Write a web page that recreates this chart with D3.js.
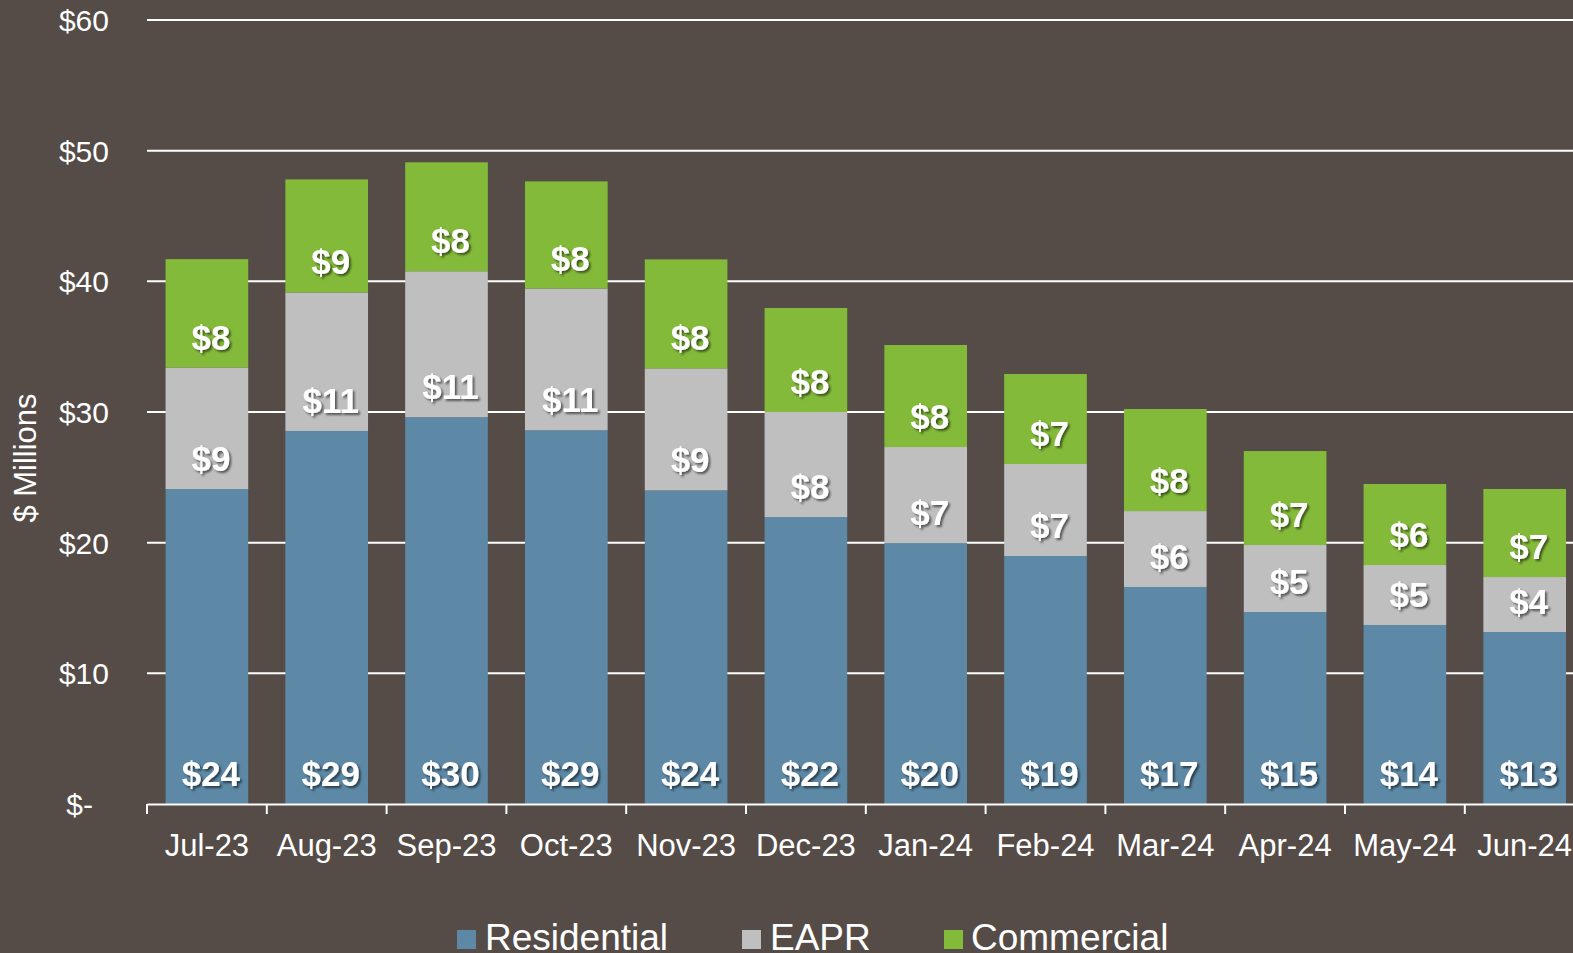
<!DOCTYPE html>
<html><head><meta charset="utf-8">
<script src="https://cdn.jsdelivr.net/npm/d3@7"></script>
<style>
html,body{margin:0;padding:0;background:#554b47;overflow:hidden;}
svg{display:block;font-family:"Liberation Sans",Arial,sans-serif;}
</style></head>
<body><svg id="c" width="1573" height="953"></svg>
<script>
const categories = ["Jul-23","Aug-23","Sep-23","Oct-23","Nov-23","Dec-23","Jan-24","Feb-24","Mar-24","Apr-24","May-24","Jun-24"];
const residential = [24.1, 28.55, 29.6, 28.6, 24.0, 21.96, 19.97, 18.98, 16.61, 14.69, 13.7, 13.16];
const eapr = [9.3, 10.6, 11.17, 10.85, 9.34, 8.04, 7.35, 7.04, 5.81, 5.13, 4.59, 4.21];
const commercial = [8.3, 8.65, 8.34, 8.2, 8.34, 7.96, 7.81, 6.89, 7.81, 7.19, 6.2, 6.74];
const seriesNames = ["Residential","EAPR","Commercial"];
const yTicks = [0,10,20,30,40,50,60];

(function(){
const colors = {Residential:"#5d89a6", EAPR:"#bfbfbf", Commercial:"#84ba3a"};
const svg = d3.select("#c");
const defs = svg.append("defs");
const f = defs.append("filter").attr("id","sh").attr("x","-20%").attr("y","-20%").attr("width","150%").attr("height","150%");
f.append("feDropShadow").attr("dx",2).attr("dy",2).attr("stdDeviation",1.2).attr("flood-color","#000").attr("flood-opacity",0.55);

const mLeft = 147, mTop = 20, mBottom = 804;
const band = 119.8;
const x = d3.scaleBand().domain(categories).range([mLeft, mLeft + band*categories.length]).paddingInner(0.31).paddingOuter(0.155);
const y = d3.scaleLinear().domain([0,60]).range([mBottom, mTop]);

const rows = categories.map((c,i)=>({cat:c, Residential:residential[i], EAPR:eapr[i], Commercial:commercial[i]}));
const stack = d3.stack().keys(seriesNames)(rows);

const yAxis = d3.axisLeft(y).tickValues(yTicks).tickSize(0).tickFormat(d=> d===0 ? "$-" : "$"+d);
const gy = svg.append("g").attr("transform",`translate(${mLeft-38},0)`).call(yAxis);
gy.select(".domain").remove();
gy.selectAll("text").attr("fill","#fff").attr("font-size","30px").attr("font-family","Liberation Sans, Arial, sans-serif").attr("dy","0.35em").attr("x",0)
  .attr("dx", d=> d===0 ? -16 : 0);
svg.append("g").selectAll("line").data(yTicks.filter(d=>d>0)).join("line")
  .attr("x1",mLeft).attr("x2",1573).attr("y1",d=>y(d)).attr("y2",d=>y(d))
  .attr("stroke","#fff").attr("stroke-width",2);

const g = svg.append("g");
stack.forEach(s=>{
  g.append("g").attr("fill",colors[s.key]).selectAll("rect").data(s).join("rect")
    .attr("x",d=>x(d.data.cat)).attr("width",x.bandwidth())
    .attr("y",d=>y(d[1])).attr("height",d=>y(d[0])-y(d[1]));
});

stack.forEach(s=>{
  g.append("g").selectAll("text").data(s).join("text")
    .attr("x",d=>x(d.data.cat)+x.bandwidth()/2+4)
    .attr("y",d=> y(d[0]) - 18)
    .attr("text-anchor","middle").attr("fill","#fff").attr("font-weight","bold").attr("font-size","35px")
    .attr("filter","url(#sh)")
    .text(d=>"$"+Math.round(d[1]-d[0]));
});

const xAxisScale = d3.scaleBand().domain(categories).range([mLeft, mLeft + band*categories.length]);
const xAxis = d3.axisBottom(xAxisScale).tickSize(0).tickSizeOuter(0);
const gx = svg.append("g").attr("transform",`translate(0,${mBottom})`).call(xAxis);
gx.select(".domain").attr("stroke","#fff").attr("stroke-width",2);
gx.selectAll("text").attr("fill","#fff").attr("font-size","31px").attr("font-family","Liberation Sans, Arial, sans-serif").attr("y",52).attr("dy",0);
gx.append("g").selectAll("line").data(d3.range(categories.length+1)).join("line")
  .attr("x1",i=>mLeft+i*band).attr("x2",i=>mLeft+i*band).attr("y1",0).attr("y2",10)
  .attr("stroke","#fff").attr("stroke-width",2);

svg.append("text").attr("transform","translate(36,458) rotate(-90)").attr("text-anchor","middle")
  .attr("fill","#fff").attr("font-size","31px").text("$ Millions");

const legX = [457, 742, 944];
const legT = [485, 770, 971];
const lg = svg.append("g");
seriesNames.forEach((n,i)=>{
  lg.append("rect").attr("x",legX[i]).attr("y",930).attr("width",19).attr("height",19).attr("fill",colors[n]);
  lg.append("text").attr("x",legT[i]).attr("y",950).attr("fill","#fff").attr("font-size","37px").text(n);
});
})();
</script></body></html>
